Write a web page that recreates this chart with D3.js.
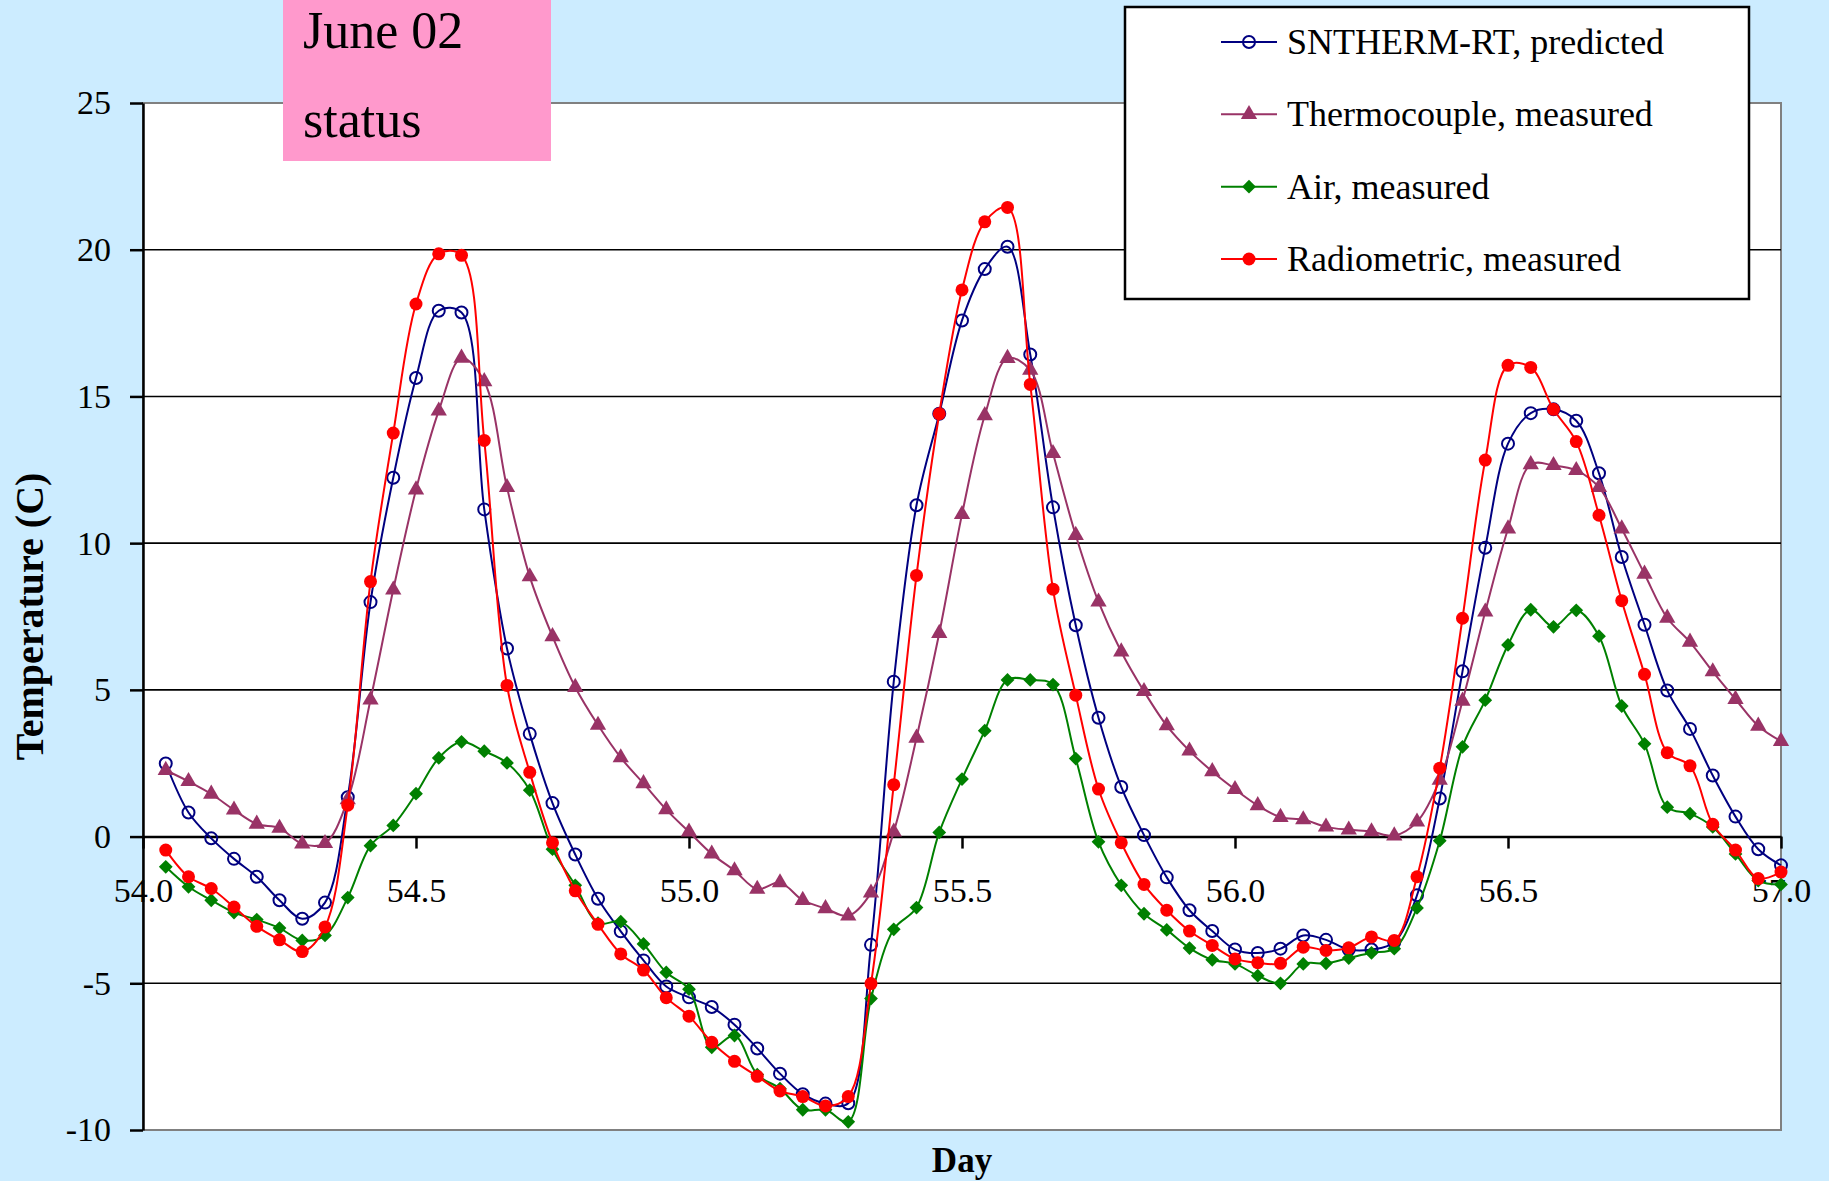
<!DOCTYPE html>
<html lang="en">
<head>
    <meta charset="UTF-8">
    <title>June 02 status - surface temperature</title>
    <script src="https://d3js.org/d3.v7.min.js"></script>
    <style>
        body {
            margin: 0;
            background: #CCECFF;
            font-family: "Liberation Serif", "Times New Roman", serif;
        }
        .axis text {
            font-family: "Liberation Serif", "Times New Roman", serif;
            font-size: 34px;
            fill: #000;
        }
        .legend text {
            font-size: 36px;
        }
    </style>
</head>
<body>
    <svg id="chart"></svg>

    <script>
        // hourly samples, first one at 54 + 1/24, last at 57.0
        const startDay = 54;
        const samplesPerDay = 24;

        const sntherm = [
            2.49, 0.82, -0.06, -0.76, -1.37, -2.17, -2.80, -2.25, 1.34, 7.99, 12.23, 15.63,
            17.92, 17.86, 11.15, 6.41, 3.50, 1.14, -0.61, -2.12, -3.23, -4.22, -5.11, -5.48,
            -5.81, -6.41, -7.22, -8.08, -8.78, -9.10, -9.09, -3.69, 5.28, 11.29, 14.41, 17.59,
            19.34, 20.10, 16.43, 11.22, 7.20, 4.05, 1.69, 0.05, -1.39, -2.51, -3.22, -3.85,
            -3.97, -3.82, -3.37, -3.52, -3.85, -3.85, -3.60, -2.00, 1.30, 5.63, 9.84, 13.39,
            14.43, 14.56, 14.17, 12.38, 9.53, 7.22, 4.98, 3.67, 2.08, 0.68, -0.43, -0.98
        ];
        const thermocouple = [
            2.26, 1.88, 1.45, 0.91, 0.43, 0.29, -0.25, -0.23, 1.26, 4.66, 8.41, 11.82,
            14.51, 16.31, 15.51, 11.90, 8.86, 6.82, 5.09, 3.80, 2.69, 1.81, 0.92, 0.16,
            -0.59, -1.16, -1.79, -1.57, -2.17, -2.45, -2.70, -1.92, 0.16, 3.36, 6.93, 10.98,
            14.35, 16.30, 15.90, 13.06, 10.27, 8.00, 6.30, 4.95, 3.78, 2.92, 2.22, 1.61,
            1.06, 0.66, 0.58, 0.33, 0.23, 0.17, 0.03, 0.50, 1.93, 4.62, 7.66, 10.49,
            12.68, 12.65, 12.48, 11.90, 10.49, 8.95, 7.45, 6.63, 5.62, 4.68, 3.77, 3.25
        ];
        const air = [
            -1.03, -1.71, -2.17, -2.59, -2.83, -3.12, -3.54, -3.37, -2.08, -0.31, 0.38, 1.46,
            2.68, 3.23, 2.91, 2.51, 1.58, -0.43, -1.66, -2.95, -2.90, -3.66, -4.63, -5.20,
            -7.18, -6.78, -8.11, -8.59, -9.31, -9.31, -9.72, -5.52, -3.16, -2.42, 0.14, 1.96,
            3.61, 5.34, 5.34, 5.18, 2.66, -0.18, -1.66, -2.63, -3.18, -3.80, -4.20, -4.34,
            -4.74, -5.00, -4.34, -4.32, -4.14, -3.96, -3.82, -2.43, -0.14, 3.06, 4.65, 6.53,
            7.73, 7.15, 7.71, 6.83, 4.45, 3.16, 1.00, 0.78, 0.33, -0.59, -1.50, -1.63
        ];
        const radiometric = [
            -0.46, -1.37, -1.77, -2.40, -3.06, -3.52, -3.92, -3.08, 1.07, 8.69, 13.75, 18.15,
            19.86, 19.81, 13.50, 5.15, 2.19, -0.21, -1.85, -2.99, -4.00, -4.55, -5.49, -6.12,
            -7.01, -7.66, -8.17, -8.67, -8.86, -9.18, -8.86, -5.01, 1.77, 8.90, 14.41, 18.63,
            20.95, 21.44, 15.41, 8.43, 4.82, 1.62, -0.21, -1.63, -2.51, -3.22, -3.71, -4.17,
            -4.30, -4.32, -3.77, -3.88, -3.79, -3.42, -3.54, -1.37, 2.33, 7.44, 12.83, 16.06,
            15.99, 14.56, 13.46, 10.95, 8.04, 5.53, 2.86, 2.41, 0.42, -0.46, -1.43, -1.21
        ];

        const seriesNames = ["SNTHERM-RT, predicted", "Thermocouple, measured", "Air, measured", "Radiometric, measured"];
        const xTicks = [54.0, 54.5, 55.0, 55.5, 56.0, 56.5, 57.0];
        const yTicks = [-10, -5, 0, 5, 10, 15, 20, 25];
        const gridValues = [-5, 5, 10, 15, 20];

        const width = 1829;
        const height = 1181;
        const plot = { left: 143, right: 1781, top: 103, bottom: 1130 };

        const svg = d3.select("#chart")
                      .attr("width", width)
                      .attr("height", height);

        const xScale = d3.scaleLinear().domain([54, 57]).range([plot.left, plot.right]);
        const yScale = d3.scaleLinear().domain([-10, 25]).range([plot.bottom, plot.top]);

        // plot area
        svg.append("rect")
           .attr("x", plot.left).attr("y", plot.top)
           .attr("width", plot.right - plot.left).attr("height", plot.bottom - plot.top)
           .attr("fill", "#fff")
           .attr("stroke", "#808080")
           .attr("stroke-width", 2);

        // grid
        svg.selectAll(".grid")
           .data(gridValues)
           .enter()
           .append("line")
           .attr("class", "grid")
           .attr("x1", plot.left).attr("x2", plot.right)
           .attr("y1", d => yScale(d)).attr("y2", d => yScale(d))
           .attr("stroke", "#000")
           .attr("stroke-width", 1.6);

        // y axis (plain hyphen for negatives, like the original)
        const yAxis = d3.axisLeft(yScale).tickValues(yTicks).tickSize(13).tickSizeOuter(0).tickPadding(19)
                        .tickFormat(d => String(d));
        const gy = svg.append("g")
                      .attr("class", "axis")
                      .attr("transform", `translate(${plot.left}, 0)`)
                      .call(yAxis);
        gy.select(".domain").attr("stroke-width", 2.5);
        gy.selectAll(".tick line").attr("stroke-width", 2.5);

        // x axis sits on the zero line
        const xAxis = d3.axisBottom(xScale).tickValues(xTicks).tickSize(12).tickSizeOuter(0)
                        .tickFormat(d => d.toFixed(1));
        const gx = svg.append("g")
                      .attr("class", "axis")
                      .attr("transform", `translate(0, ${yScale(0)})`)
                      .call(xAxis);
        gx.select(".domain").attr("stroke-width", 2.5);
        gx.selectAll(".tick line").attr("stroke-width", 2.5);
        gx.selectAll(".tick text").attr("y", 65).attr("dy", 0);

        // axis titles
        svg.append("text")
           .attr("transform", `translate(43, ${(plot.top + plot.bottom) / 2}) rotate(-90)`)
           .attr("text-anchor", "middle")
           .attr("font-size", 40)
           .attr("font-weight", "bold")
           .text("Temperature (C)");

        svg.append("text")
           .attr("x", (plot.left + plot.right) / 2)
           .attr("y", 1172)
           .attr("text-anchor", "middle")
           .attr("font-size", 35)
           .attr("font-weight", "bold")
           .text("Day");

        // series
        const dayOf = i => startDay + (i + 1) / samplesPerDay;

        const series = [
            { name: seriesNames[0], values: sntherm, color: "#000080", marker: "circle" },
            { name: seriesNames[1], values: thermocouple, color: "#993366", marker: "triangle" },
            { name: seriesNames[2], values: air, color: "#008000", marker: "diamond" },
            { name: seriesNames[3], values: radiometric, color: "#FF0000", marker: "dot" }
        ];

        const line = d3.line()
                       .x((d, i) => xScale(dayOf(i)))
                       .y(d => yScale(d))
                       .curve(d3.curveCatmullRom.alpha(0.5));

        function drawMarker(g, type, color) {
            if (type === "circle") {
                g.append("circle").attr("r", 6).attr("fill", "none")
                 .attr("stroke", color).attr("stroke-width", 2);
            } else if (type === "dot") {
                g.append("circle").attr("r", 6.5).attr("fill", color);
            } else if (type === "triangle") {
                g.append("path").attr("d", d3.symbol(d3.symbolTriangle, 115)()).attr("fill", color);
            } else {
                g.append("path").attr("d", d3.symbol(d3.symbolSquare, 95)())
                 .attr("transform", "rotate(45)").attr("fill", color);
            }
        }

        series.forEach(s => {
            svg.append("path")
               .datum(s.values)
               .attr("fill", "none")
               .attr("stroke", s.color)
               .attr("stroke-width", 2)
               .attr("d", line);

            svg.append("g")
               .selectAll("g")
               .data(s.values)
               .enter()
               .append("g")
               .attr("transform", (d, i) => `translate(${xScale(dayOf(i))}, ${yScale(d)})`)
               .each(function () { drawMarker(d3.select(this), s.marker, s.color); });
        });

        // status label
        svg.append("rect")
           .attr("x", 283).attr("y", 0)
           .attr("width", 268).attr("height", 161)
           .attr("fill", "#FF99CC");
        svg.append("text").attr("x", 303).attr("y", 48).attr("font-size", 52).text("June 02");
        svg.append("text").attr("x", 303).attr("y", 137).attr("font-size", 52).text("status");

        // legend
        const legend = svg.append("g").attr("class", "legend");
        legend.append("rect")
              .attr("x", 1125).attr("y", 7)
              .attr("width", 624).attr("height", 292)
              .attr("fill", "#fff")
              .attr("stroke", "#000")
              .attr("stroke-width", 2.5);

        const legendY = d3.scalePoint().domain(seriesNames).range([42, 259]);

        series.forEach(s => {
            const row = legend.append("g").attr("transform", `translate(0, ${legendY(s.name)})`);
            row.append("line")
               .attr("x1", 1221).attr("x2", 1277)
               .attr("stroke", s.color).attr("stroke-width", 2);
            drawMarker(row.append("g").attr("transform", "translate(1249, 0)"), s.marker, s.color);
            row.append("text")
               .attr("x", 1287)
               .attr("y", 12)
               .text(s.name);
        });
    </script>
</body>
</html>
